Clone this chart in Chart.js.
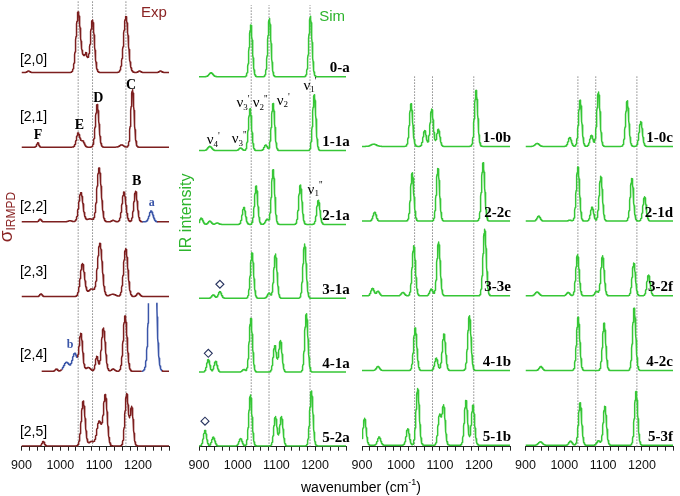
<!DOCTYPE html>
<html><head><meta charset="utf-8">
<script src="https://cdn.jsdelivr.net/npm/chart.js@4.4.1/dist/chart.umd.min.js"></script>
<style>
html,body{margin:0;padding:0;background:#fff;}
#wrap{position:relative;width:680px;height:496px;overflow:hidden;background:#fff;}
#wrap canvas{position:absolute;left:0;top:0;}
</style></head><body>
<div id="wrap">
<canvas id="cExp" width="680" height="496"></canvas>
<canvas id="cS1" width="680" height="496"></canvas>
<canvas id="cS2" width="680" height="496"></canvas>
<canvas id="cS3" width="680" height="496"></canvas>
</div>
<script>
// ---------------- data ----------------
const xMin = 900, xMax = 1280, tickStep = 20;
const majorTicks = [900, 1000, 1100, 1200];
const expMarkers = [1046, 1083, 1169];
const simMarkers = [1035, 1081, 1187];

const expNames = ['[2,0]', '[2,1]', '[2,2]', '[2,3]', '[2,4]', '[2,5]'];
const sim1Names = ['0-a', '1-1a', '2-1a', '3-1a', '4-1a', '5-2a'];
const sim2Names = ['1-0b', '2-2c', '3-3e', '4-1b', '5-1b'];
const sim3Names = ['1-0c', '2-1d', '3-2f', '4-2c', '5-3f'];

// peaks: [centre (cm-1), height (row units), gaussian width (cm-1)]
const exp20 = [[918,0.02,3],[1046,0.78,5.5],[1064,0.22,9],[1066,0.05,1.5],[1083,0.68,5],[1169,0.75,6],[1204,0.02,3],[1258,0.02,3]];
const exp21 = [[942,0.06,2.5],[1046,0.19,4.5],[1058,0.08,4],[1095,0.57,4.5],[1158,0.03,5],[1186,0.77,4.2]];
const exp22 = [[948,0.035,3],[1025,0.015,5],[1053,0.39,5.5],[1076,0.04,8],[1100,0.72,5.5],[1136,0.02,4],[1164,0.40,5],[1194,0.41,4.5],[1234,0.145,5]];
const exp23 = [[950,0.035,3],[1057,0.44,5.5],[1080,0.10,8],[1102,0.71,6],[1135,0.03,8],[1168.5,0.64,5.5],[1201,0.045,4]];
const exp24 = [[990,0.03,3],[1016,0.12,7],[1037,0.24,6],[1053,0.5,4.5],[1072,0.05,6],[1094,0.2,3.5],[1111,0.58,5],[1136,0.03,4],[1167,0.74,5],[1238,2.8,7]];
const exp25 = [[956,0.06,3],[1059,0.6,5],[1080,0.06,6],[1100,0.33,6],[1116,0.68,5],[1171,0.70,4.5],[1184,0.52,4]];
const expStart = [900, 900, 900, 900, 952, 900];
const exp22Blue = [[1212, 1250]];
const exp24Blue = [[1004, 1044], [1210, 1262]];

const sim0a  = [[931,0.053,5],[1034,0.70,4.2],[1082,0.79,4.2],[1188,0.82,4.2]];
const sim11a = [[928,0.057,5],[1007.5,0.035,4],[1032,0.565,4.2],[1072.6,0.075,4],[1091.5,0.636,4.2],[1198,0.757,4.2]];
const sim21a = [[906,0.085,4],[928,0.045,4],[947,0.02,4],[1016,0.23,4.2],[1047.7,0.52,4.2],[1076,0.07,4],[1091.5,0.74,4.2],[1162,0.535,4.2],[1208.5,0.326,4.2]];
const sim31a = [[937,0.045,4],[954,0.09,4],[1037,0.615,4.2],[1081,0.07,4],[1097.6,0.60,4.2],[1173,0.735,4.2]];
const sim41a = [[924,0.17,4],[943,0.147,4],[1016,0.036,4],[1034,0.727,4.2],[1096,0.357,4.2],[1110.5,0.428,4.2],[1177.5,0.79,4.2]];
const sim52a = [[915.5,0.21,4],[937,0.12,4],[1007.5,0.1,4],[1033,0.69,4.2],[1097.6,0.40,4.2],[1113,0.40,4.2],[1190.5,0.745,4.2]];

const sim10b = [[930,0.03,7],[1026,0.57,4.2],[1061,0.214,4],[1079,0.50,4.2],[1096,0.23,4],[1193,0.75,4.2]];
const sim22c = [[932.5,0.12,4],[1029,0.646,4.2],[1095,0.703,4.2],[1211,0.78,4.2]];
const sim33e = [[927,0.1,4],[941,0.06,4],[1005,0.045,4],[1033,0.67,4.2],[1078,0.09,4],[1096.6,0.72,4.2],[1215,0.89,4.2]];
const sim41b = [[941,0.054,4],[1036.6,0.57,4.2],[1090.7,0.166,4],[1110.4,0.49,4.2],[1175.8,0.735,4.2]];
const sim51b = [[906.7,0.36,4],[944,0.11,4],[1017.5,0.22,4],[1043,0.76,4.2],[1099,0.40,4],[1109.6,0.53,4],[1167,0.60,4.2],[1185,0.535,4.2]];

const sim10c = [[930,0.04,5],[1014,0.12,4],[1040.8,0.62,4.2],[1070,0.15,4],[1088,0.73,4.2],[1162,0.61,4.2],[1197,0.334,4.2]];
const sim21d = [[934,0.067,4],[1014,0.012,4],[1035,0.726,4.2],[1071.6,0.187,4],[1094,0.60,4.2],[1174,0.57,4.2],[1206.7,0.325,4.2]];
const sim32f = [[930,0.05,5],[1010,0.045,4],[1034,0.55,4.2],[1083,0.06,4],[1098.5,0.535,4.2],[1179,0.44,4.2],[1217,0.28,4.2]];
const sim42c = [[939.5,0.054,4],[1035.7,0.714,4.2],[1102.6,0.634,4.2],[1180,0.834,4.2]];
const sim53f = [[938.6,0.045,5],[1016,0.055,4],[1040.7,0.57,4.2],[1088,0.06,4],[1104.4,0.52,4.2],[1185,0.72,4.2]];

// ---------------- styling ----------------
const RED = '#7d1f1f', BLUE = '#3a55a8', GREEN = '#36c636', GREEN_T = '#2db52d', DOT = '#6a6a6a';
const SPAN = 5.98;                 // visible row units per chart
const SANS = "'Liberation Sans', Arial, sans-serif";
const SERIF = "'Liberation Serif', 'Times New Roman', serif";

function curve(peaks, offset, from, to, clipAt) {
  const pts = [];
  for (let x = from; x <= to + 1e-9; x += 0.5) {
    let v = 0;
    for (const [c, h, s] of peaks) { const d = (x - c) / s; if (Math.abs(d) < 9) v += h * Math.exp(-0.5 * d * d); }
    pts.push({x, y: (clipAt != null && v > clipAt) ? null : offset + v});
  }
  return pts;
}
function inRanges(x, ranges) { return ranges.some(r => x >= r[0] && x <= r[1]); }

function spectrum(peaks, offset, color, opts = {}) {
  const ds = {
    data: curve(peaks, offset, opts.from || xMin, xMax, opts.clip),
    borderColor: color, borderWidth: opts.width || 1.5, pointRadius: 0, fill: false,
    spanGaps: false, order: 1, borderJoinStyle: 'round'
  };
  if (opts.blue) ds.segment = { borderColor: c => inRanges((c.p0.parsed.x + c.p1.parsed.x) / 2, opts.blue) ? BLUE : color };
  return ds;
}
function markers(xs, y0, y1) {
  return xs.map(x => ({
    data: [{x, y: y0}, {x, y: y1}], borderColor: DOT, borderWidth: 1,
    borderDash: [1.2, 1.8], pointRadius: 0, order: 5
  }));
}
function diamonds(list) {
  return {
    data: list.map(d => ({x: d.x, y: d.y})), showLine: false, order: 0,
    pointStyle: 'rectRot', pointRadius: 4, pointBorderColor: '#27335f',
    pointBackgroundColor: '#fff', pointBorderWidth: 1.1
  };
}

function textPlugin(items) {
  return {
    id: 'txt',
    afterDatasetsDraw(chart) {
      const {ctx} = chart, xs = chart.scales.x, ys = chart.scales.y;
      for (const t of items) {
        ctx.save();
        const px = t.px ? t.x : xs.getPixelForValue(t.x);
        const py = t.px ? t.y : ys.getPixelForValue(t.y);
        ctx.translate(px, py);
        if (t.rot) ctx.rotate(t.rot);
        const parts = t.parts || [[t.t, t.font, 0]];
        let w = 0;
        for (const p of parts) { ctx.font = p[1]; w += ctx.measureText(p[0]).width; }
        let cx = t.align === 'left' ? 0 : (t.align === 'right' ? -w : -w / 2);
        ctx.fillStyle = t.color || '#000';
        ctx.textBaseline = 'middle'; ctx.textAlign = 'left';
        for (const p of parts) { ctx.font = p[1]; ctx.fillText(p[0], cx, p[2] || 0); cx += ctx.measureText(p[0]).width; }
        ctx.restore();
      }
    }
  };
}

function makeChart(id, left, right, yMin, datasets, texts) {
  return new Chart(document.getElementById(id), {
    type: 'line',
    data: {datasets},
    options: {
      responsive: false, animation: false, devicePixelRatio: 1,
      parsing: false, normalized: true, events: [],
      layout: {padding: {left, right: 680 - right, top: 0, bottom: 0}},
      plugins: {legend: {display: false}, tooltip: {enabled: false}},
      scales: {
        x: {
          type: 'linear', min: xMin, max: xMax, position: 'bottom',
          ticks: {stepSize: tickStep, autoSkip: false, maxRotation: 0, minRotation: 0, padding: 7,
                  color: '#111', font: {family: SANS, size: 12.5},
                  callback: v => majorTicks.includes(v) ? String(v) : ''},
          grid: {drawOnChartArea: false, drawTicks: true, tickLength: 4, color: '#222', lineWidth: 1},
          border: {display: true, color: '#222', width: 1},
          afterFit: s => { s.height = 49.3; }
        },
        y: {display: false, min: yMin, max: yMin + SPAN}
      }
    },
    plugins: [textPlugin(texts)]
  });
}

const nu = (sub, sup) => [['ν', '15px ' + SERIF, 0], [sub, '9px ' + SERIF, 4], [sup, '10px ' + SERIF, -4]];
const rowLabel = (name, off, x) => ({t: name, x, y: off + 0.11, align: 'right', font: 'bold 15px ' + SERIF});

// ---------------- Exp column ----------------
const expSets = [exp20, exp21, exp22, exp23, exp24, exp25];
const expDs = [
  ...markers(expMarkers, -0.01, -0.01 + SPAN),
  ...expSets.map((p, i) => spectrum(p, 5 - i, RED, {
    from: expStart[i], clip: i === 4 ? 0.99 : null,
    blue: i === 2 ? exp22Blue : (i === 4 ? exp24Blue : null)
  }))
];
const expNameDy = [0.167, 0.404, 0.203, 0.333, 0.218, 0.19];
const expTexts = [
  {t: 'Exp', x: 1241, y: 5.80, font: '15px ' + SANS, color: '#8a2424'},
  ...expNames.map((n, i) => ({t: n, x: 896, y: 5 - i + expNameDy[i], align: 'left', font: '14px ' + SANS})),
  {t: 'F', x: 942.5, y: 4.163, font: 'bold 14px ' + SERIF},
  {t: 'E', x: 1049, y: 4.297, font: 'bold 14px ' + SERIF},
  {t: 'D', x: 1098, y: 4.654, font: 'bold 14px ' + SERIF},
  {t: 'C', x: 1182, y: 4.832, font: 'bold 14px ' + SERIF},
  {t: 'B', x: 1197, y: 3.538, font: 'bold 14px ' + SERIF},
  {t: 'a', x: 1235.6, y: 3.248, font: 'bold 12px ' + SERIF, color: BLUE},
  {t: 'b', x: 1025, y: 1.351, font: 'bold 12px ' + SERIF, color: BLUE},
  {px: true, x: 7, y: 217, rot: -Math.PI / 2, color: '#8a2424',
   parts: [['σ', '19px ' + SANS, 0], ['IRMPD', '12px ' + SANS, 5]]}
];
makeChart('cExp', 21.5, 169, -0.01, expDs, expTexts);

// ---------------- Sim column 1 ----------------
const s1Sets = [sim0a, sim11a, sim21a, sim31a, sim41a, sim52a];
const s1Ds = [
  ...markers(simMarkers, -0.01, -0.01 + SPAN),
  ...s1Sets.map((p, i) => spectrum(p, 5 - i, GREEN)),
  diamonds([{x: 954, y: 2.19}, {x: 924, y: 1.255}, {x: 915.5, y: 0.335}])
];
const s1Texts = [
  {t: 'Sim', x: 1244, y: 5.813, font: '15px ' + SANS, color: GREEN_T},
  ...sim1Names.map((n, i) => rowLabel(n, 5 - i, 1290)),
  {x: 937, y: 4.14, parts: nu('4', "'")},
  {x: 1004, y: 4.15, parts: nu('3', "''")},
  {x: 1014, y: 4.64, parts: nu('3', "'")},
  {x: 1058, y: 4.64, parts: nu('2', "''")},
  {x: 1118, y: 4.67, parts: nu('2', "'")},
  {x: 1187, y: 4.88, parts: nu('1', "'")},
  {x: 1200, y: 3.47, parts: nu('1', "''")},
  {px: true, x: 187, y: 213, rot: -Math.PI / 2, t: 'IR intensity', font: '16px ' + SANS, color: GREEN_T}
];
makeChart('cS1', 199, 346, -0.01, s1Ds, s1Texts);

// ---------------- Sim column 2 ----------------
const s2Sets = [sim10b, sim22c, sim33e, sim41b, sim51b];
const s2Ds = [
  ...markers(simMarkers, -0.02, 4.956),
  ...s2Sets.map((p, i) => spectrum(p, 4 - i, GREEN))
];
const s2Texts = [
  ...sim2Names.map((n, i) => rowLabel(n, 4 - i, 1282.5)),
  {px: true, x: 361, y: 488, parts: [['wavenumber (cm', '14px ' + SANS, 0], ['-1', '9px ' + SANS, -5], [')', '14px ' + SANS, 0]]}
];
makeChart('cS2', 362, 510, -0.02, s2Ds, s2Texts);

// ---------------- Sim column 3 ----------------
const s3Sets = [sim10c, sim21d, sim32f, sim42c, sim53f];
const s3Ds = [
  ...markers(simMarkers, -0.02, 4.956),
  ...s3Sets.map((p, i) => spectrum(p, 4 - i, GREEN))
];
const s3Texts = sim3Names.map((n, i) => rowLabel(n, 4 - i, 1280));
makeChart('cS3', 525.5, 673, -0.02, s3Ds, s3Texts);
</script>
</body></html>
